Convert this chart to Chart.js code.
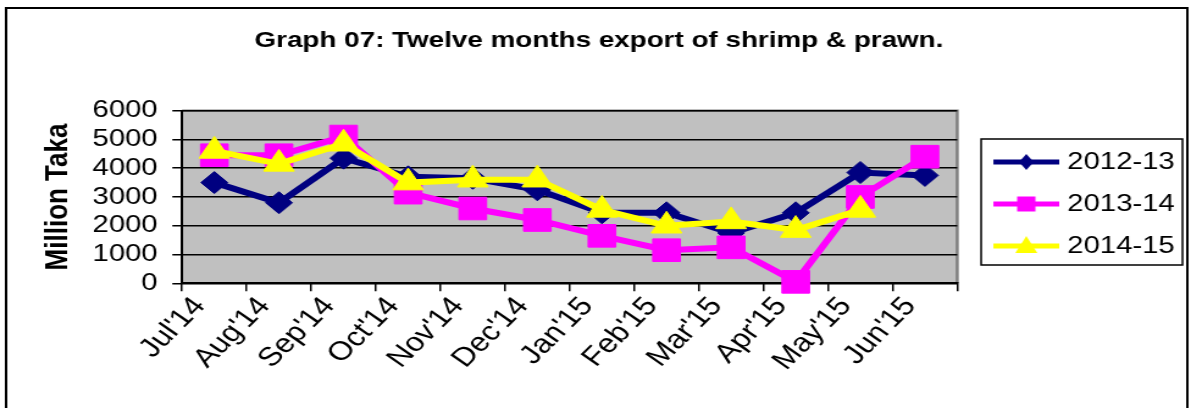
<!DOCTYPE html>
<html>
<head>
<meta charset="utf-8">
<script src="https://cdn.jsdelivr.net/npm/chart.js@4.4.1/dist/chart.umd.min.js"></script>
<style>
  html, body { margin: 0; padding: 0; background: #fff; }
</style>
</head>
<body>
<!-- drawn at 976px wide and stretched to 1191px, like the reference picture -->
<canvas id="chart" width="976" height="408" style="display:block;width:1191px;height:408px"></canvas>
<script>
const months = ["Jul'14", "Aug'14", "Sep'14", "Oct'14", "Nov'14", "Dec'14", "Jan'15", "Feb'15", "Mar'15", "Apr'15", "May'15", "Jun'15"];
const fy2012_13 = [3500, 2800, 4350, 3700, 3650, 3250, 2450, 2450, 1750, 2450, 3850, 3750];
const fy2013_14 = [4450, 4450, 5100, 3150, 2600, 2200, 1650, 1150, 1250, 50, 3000, 4400];
const fy2014_15 = [4600, 4150, 4850, 3500, 3600, 3600, 2550, 2000, 2150, 1850, 2550, null];
const yTickValues = [0, 1000, 2000, 3000, 4000, 5000, 6000];

const FONT = "Arial, 'Liberation Sans', sans-serif";
Chart.defaults.font.family = FONT;
Chart.defaults.color = "#000";

// little line + marker pictures for the legend
function legendSwatch(color, shape) {
  const c = document.createElement("canvas");
  c.width = 71;
  c.height = 24;
  const g = c.getContext("2d");
  g.strokeStyle = color;
  g.lineWidth = 5;
  g.beginPath();
  g.moveTo(17, 12);
  g.lineTo(71, 12);
  g.stroke();
  g.fillStyle = color;
  const cx = 44, cy = 12;
  g.beginPath();
  if (shape === "diamond") {
    g.moveTo(cx, cy - 8); g.lineTo(cx + 6, cy); g.lineTo(cx, cy + 8); g.lineTo(cx - 6, cy);
  } else if (shape === "square") {
    g.rect(cx - 7.5, cy - 7.5, 15, 15);
  } else {
    g.moveTo(cx, cy - 10); g.lineTo(cx + 9, cy + 7); g.lineTo(cx - 9, cy + 7);
  }
  g.closePath();
  g.fill();
  return c;
}

const swatches = [
  legendSwatch("#000080", "diamond"),
  legendSwatch("#ff00ff", "square"),
  legendSwatch("#ffff00", "triangle"),
];

const chartFrame = {
  id: "chartFrame",
  beforeDraw(chart) {
    const { ctx, chartArea: a } = chart;
    ctx.save();
    ctx.fillStyle = "#fff";
    ctx.fillRect(0, 0, chart.width, chart.height);
    ctx.fillStyle = "#c0c0c0";
    ctx.fillRect(a.left, a.top, a.right - a.left, a.bottom - a.top);
    ctx.strokeStyle = "#808080";
    ctx.lineWidth = 2.5;
    ctx.beginPath();
    ctx.moveTo(a.left, a.top);
    ctx.lineTo(a.right, a.top);
    ctx.lineTo(a.right, a.bottom);
    ctx.stroke();
    ctx.strokeStyle = "#000";
    ctx.lineWidth = 2;
    ctx.strokeRect(5, 8, 968, 430);
    ctx.restore();
  },
  afterDraw(chart) {
    const lg = chart.legend;
    const cy = (lg.top + lg.bottom) / 2;
    const ctx = chart.ctx;
    ctx.save();
    ctx.strokeStyle = "#000";
    ctx.lineWidth = 1.5;
    ctx.strokeRect(lg.left + 19.6, cy - 65, 165, 126);
    ctx.restore();
  },
};

function series(label, data, color, pointStyle, radius, order) {
  return {
    label,
    data,
    borderColor: color,
    backgroundColor: color,
    borderWidth: 6,
    pointStyle,
    pointRadius: radius,
    pointBackgroundColor: color,
    pointBorderColor: color,
    pointBorderWidth: 1,
    tension: 0,
    clip: false,
    order,
  };
}

new Chart(document.getElementById("chart"), {
  type: "line",
  data: {
    labels: months,
    datasets: [
      series("2012-13", fy2012_13, "#000080", "rectRot", 11, 2),
      series("2013-14", fy2013_14, "#ff00ff", "rect", 16, 1),
      series("2014-15", fy2014_15, "#ffff00", "triangle", 14.5, 0),
    ],
  },
  options: {
    responsive: false,
    devicePixelRatio: 1,
    animation: false,
    events: [],
    layout: { padding: { left: 9, right: 3.3, top: 0, bottom: 0 } },
    plugins: {
      title: {
        display: true,
        text: "Graph 07: Twelve months export of shrimp & prawn.",
        color: "#000",
        font: { family: FONT, size: 22.8, weight: "bold" },
        padding: { top: 27.3, bottom: 56 },
      },
      legend: {
        position: "right",
        align: "center",
        labels: {
          usePointStyle: true,
          pointStyleWidth: 60.2,
          padding: 18,
          color: "#000",
          font: { family: FONT, size: 24 },
          generateLabels: (chart) => chart.data.datasets.map((ds, i) => ({
            text: ds.label,
            pointStyle: swatches[i],
            fillStyle: ds.borderColor,
            strokeStyle: ds.borderColor,
            lineWidth: 0,
            hidden: false,
            datasetIndex: i,
            fontColor: "#000",
          })),
        },
      },
      tooltip: { enabled: false },
    },
    scales: {
      x: {
        offset: true,
        afterFit: (scale) => { scale.height = 124.7; },
        grid: {
          display: true,
          offset: true,
          drawOnChartArea: false,
          drawTicks: true,
          tickLength: 8,
          color: "#000",
          lineWidth: 1.5,
        },
        border: { display: true, color: "#000", width: 2 },
        ticks: {
          autoSkip: false,
          minRotation: 50,
          maxRotation: 50,
          labelOffset: -12,
          padding: 0,
          color: "#000",
          font: { family: FONT, size: 26.5 },
        },
      },
      y: {
        min: 0,
        max: 6000,
        afterFit: (scale) => { scale.width = 140.2; },
        afterBuildTicks: (scale) => { scale.ticks = yTickValues.map((v) => ({ value: v })); },
        grid: {
          color: "#000",
          lineWidth: 1.5,
          drawTicks: true,
          tickLength: 8,
        },
        border: { display: true, color: "#000", width: 2 },
        ticks: {
          autoSkip: false,
          padding: 12,
          color: "#000",
          font: { family: FONT, size: 24 },
          callback: (v) => String(v),
        },
        title: {
          display: true,
          text: "Million Taka",
          color: "#000",
          font: { family: FONT, size: 26, weight: "bold" },
          padding: { top: 23.4, bottom: 0 },
        },
      },
    },
  },
  plugins: [chartFrame],
});
</script>
</body>
</html>
